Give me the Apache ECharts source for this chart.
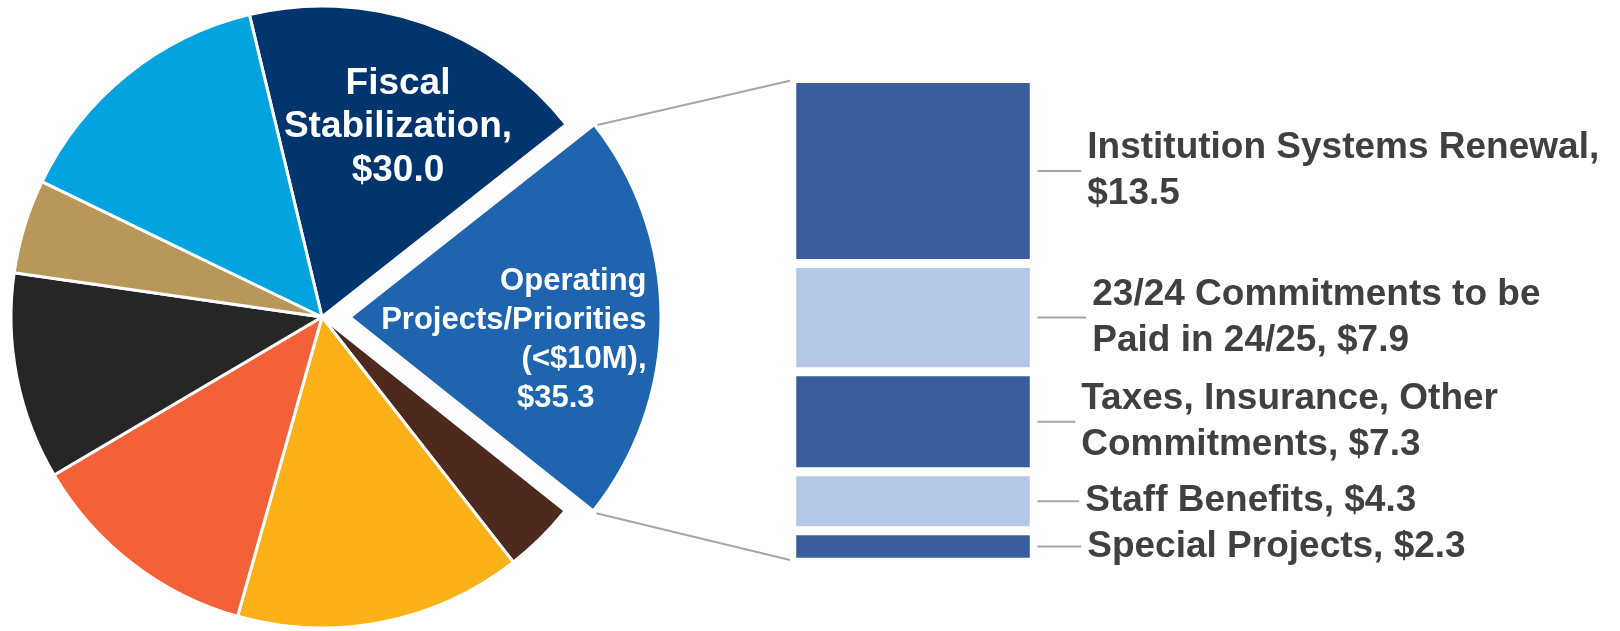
<!DOCTYPE html>
<html><head><meta charset="utf-8">
<script src="https://cdn.jsdelivr.net/npm/echarts@6/dist/echarts.min.js"></script>
<style>html,body{margin:0;padding:0;background:#fff}#c{width:1620px;height:631px}</style>
</head><body><div id="c"></div>
<script>
// ---- pie data (clockwise from the top-left slice) ----
const pieNames = ['Fiscal Stabilization', 'Operating Projects/Priorities (<$10M)', 'Slice C', 'Slice D', 'Slice E', 'Slice F', 'Slice G', 'Slice H'];
const pieValues = [30.0, 35.3, 6.2, 24.7, 20.1, 17.8, 8.1, 23.3];
const pieColors = ['#02356E', '#1F64AE', '#4E2A1E', '#FBB117', '#F26138', '#262626', '#B9965A', '#02A3DF'];
// ---- bar (breakdown of the exploded slice), top to bottom ----
const barNames = ['Institution Systems Renewal', '23/24 Commitments to be Paid in 24/25', 'Taxes, Insurance, Other Commitments', 'Staff Benefits', 'Special Projects'];
const barValues = [13.5, 7.9, 7.3, 4.3, 2.3];
const barLabels = ['Institution Systems Renewal,\n$13.5', '23/24 Commitments to be\nPaid in 24/25, $7.9', 'Taxes, Insurance, Other\nCommitments, $7.3', 'Staff Benefits, $4.3', 'Special Projects, $2.3'];
const barColors = ['#385E9D', '#B4C7E7', '#385E9D', '#B4C7E7', '#385E9D'];
const labelDistances = [53, 58, 47, 51, 53];

const FONT = '"Liberation Sans", Arial, sans-serif';
const PIE_CX = 322, PIE_CY = 317, PIE_R = 311, PIE_START = 103.5, SEL_OFF = 28;
const BAR_BORDER = 4.5;

const chart = echarts.init(document.getElementById('c'), null, {renderer: 'canvas'});
const barTotal = barValues.reduce((a, b) => a + b, 0);

const pieData = pieValues.map((v, i) => {
  const d = {value: v, name: pieNames[i], itemStyle: {color: pieColors[i]}};
  if (i === 0) {
    d.label = {show: true, position: 'inside', formatter: 'Fiscal\nStabilization,\n$30.0',
      color: '#fff', fontSize: 37, fontWeight: 'bold', fontFamily: FONT, lineHeight: 43.5, align: 'center', verticalAlign: 'middle'};
  }
  if (i === 1) {
    d.selected = true;
    d.label = {show: true, position: 'inside',
      formatter: '{a|Operating}\n{a|Projects/Priorities}\n{a|(<$10M),}\n{v|$35.3}',
      color: '#fff', fontSize: 31, fontWeight: 'bold', fontFamily: FONT, lineHeight: 39, align: 'center', verticalAlign: 'middle',
      rich: {
        a: {width: 272, align: 'right', color: '#fff', fontSize: 31, fontWeight: 'bold', fontFamily: FONT, lineHeight: 39},
        v: {align: 'right', padding: [0, 52, 0, 0], color: '#fff', fontSize: 31, fontWeight: 'bold', fontFamily: FONT, lineHeight: 39}
      }};
  }
  return d;
});

const barSeries = [];
for (let k = barValues.length - 1; k >= 0; k--) {
  barSeries.push({
    type: 'bar', stack: 'other', name: barNames[k], barWidth: '100%',
    data: [barValues[k]],
    itemStyle: {color: barColors[k], borderColor: '#fff', borderWidth: BAR_BORDER},
    label: {show: true, position: 'right', distance: labelDistances[k], formatter: barLabels[k],
      color: '#404040', fontSize: 37, fontWeight: 'bold', fontFamily: FONT, lineHeight: 46, align: 'left'},
    emphasis: {disabled: true}, silent: true
  });
}

chart.setOption({
  animation: false,
  backgroundColor: '#fff',
  grid: {left: 794 - BAR_BORDER / 2, right: 588 - BAR_BORDER / 2, top: 80.7 - BAR_BORDER / 2, bottom: 71 - BAR_BORDER / 2, containLabel: false},
  xAxis: {type: 'category', data: ['Other'], show: false},
  yAxis: {type: 'value', min: 0, max: barTotal, show: false},
  series: [{
    type: 'pie', center: [PIE_CX, PIE_CY], radius: PIE_R, startAngle: PIE_START, clockwise: true,
    selectedMode: 'single', selectedOffset: SEL_OFF, avoidLabelOverlap: false,
    itemStyle: {borderColor: '#fff', borderWidth: 3},
    label: {show: false}, labelLine: {show: false},
    emphasis: {disabled: true}, silent: true,
    labelLayout: function (p) {
      if (p.dataIndex === 0) return {x: PIE_CX + 76, y: PIE_CY - 190};
      if (p.dataIndex === 1) return {dx: 2, dy: 22};
      return {};
    },
    data: pieData
  }].concat(barSeries)
});

// ---- connector lines computed from pie geometry and bar axes ----
const pieTotal = pieValues.reduce((a, b) => a + b, 0);
const deg = Math.PI / 180;
const t0 = 90 - PIE_START;                       // clockwise-from-top start angle
const t1 = t0 + 360 * pieValues[0] / pieTotal;   // exploded slice start
const t2 = t1 + 360 * pieValues[1] / pieTotal;   // exploded slice end
const tm = (t1 + t2) / 2;
const ox = SEL_OFF * Math.sin(tm * deg), oy = -SEL_OFF * Math.cos(tm * deg);
const rr = PIE_R + 4;
const pTop = [PIE_CX + ox + rr * Math.sin(t1 * deg), PIE_CY + oy - rr * Math.cos(t1 * deg) + 3];
const pBot = [PIE_CX + ox + rr * Math.sin(t2 * deg), PIE_CY + oy - rr * Math.cos(t2 * deg)];

const yTop = chart.convertToPixel({yAxisIndex: 0}, barTotal) + BAR_BORDER / 2;
const yBot = chart.convertToPixel({yAxisIndex: 0}, 0) - BAR_BORDER / 2;
let rect;
try { rect = chart.getModel().getComponent('grid').coordinateSystem.getRect(); } catch (e) { rect = null; }
const xL = (rect ? rect.x : 794 - BAR_BORDER / 2) + BAR_BORDER / 2;
const xR = (rect ? rect.x + rect.width : 1032 + BAR_BORDER / 2) + BAR_BORDER / 2;

const lineStyle = {stroke: '#A6A6A6', lineWidth: 2};
const graphics = [
  {type: 'line', shape: {x1: pTop[0], y1: pTop[1], x2: xL - 4, y2: yTop}, style: lineStyle, silent: true},
  {type: 'line', shape: {x1: pBot[0], y1: pBot[1], x2: xL - 4, y2: yBot}, style: lineStyle, silent: true}
];
let cum = barTotal;
barValues.forEach((v, k) => {
  const ym = chart.convertToPixel({yAxisIndex: 0}, cum - v / 2);
  cum -= v;
  graphics.push({type: 'line', shape: {x1: xR + 1, y1: ym, x2: xR - BAR_BORDER / 2 + labelDistances[k] - 6, y2: ym}, style: lineStyle, silent: true});
});
chart.setOption({graphic: graphics});
</script>
</body></html>
